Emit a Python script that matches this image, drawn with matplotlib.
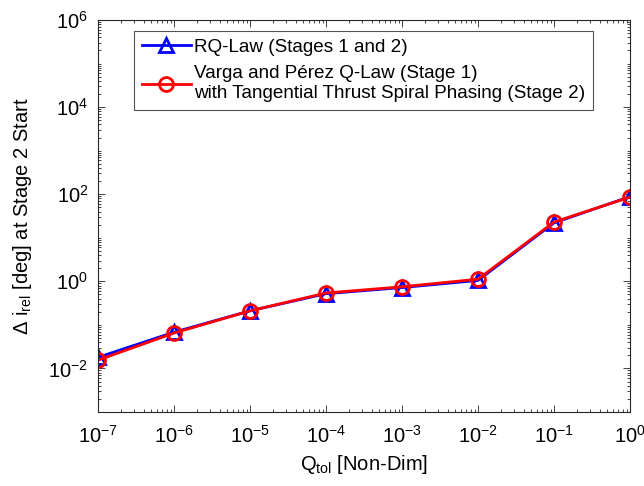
import matplotlib
matplotlib.use("Agg")
import matplotlib.pyplot as plt
from matplotlib.ticker import LogLocator, NullFormatter

plt.rcParams['font.family'] = ['Liberation Sans', 'DejaVu Sans']
plt.rcParams['mathtext.fontset'] = 'custom'
plt.rcParams['mathtext.rm'] = 'Liberation Sans'
plt.rcParams['mathtext.it'] = 'Liberation Sans:italic'
plt.rcParams['mathtext.default'] = 'regular'
plt.rcParams['axes.unicode_minus'] = False

# Convergence tolerance values
q_tol = [1e-7, 1e-6, 1e-5, 1e-4, 1e-3, 1e-2, 1e-1, 1e0]

# Relative inclination error at the start of stage 2 [deg]
rq_law = [0.018, 0.068, 0.21, 0.52, 0.72, 1.05, 22.0, 88.0]
varga_perez = [0.0155, 0.065, 0.21, 0.54, 0.75, 1.12, 23.0, 86.0]

labels = ["RQ-Law (Stages 1 and 2)",
          "Varga and Pérez Q-Law (Stage 1)\nwith Tangential Thrust Spiral Phasing (Stage 2)"]

fig = plt.figure(figsize=(6.44, 4.86), dpi=100)
ax = fig.add_axes([98 / 644, 1 - 412 / 486, 532 / 644, 392 / 486])

ax.plot(q_tol, rq_law, color='#0000ff', lw=2, marker='^', ms=10,
        mfc='none', mew=2, label=labels[0])
ax.plot(q_tol, varga_perez, color='#ff0000', lw=2, marker='o', ms=10,
        mfc='none', mew=2, label=labels[1])

ax.set_xscale('log')
ax.set_yscale('log')
ax.set_xlim(1e-7, 1e0)
ax.set_ylim(1e-3, 1e6)

ax.xaxis.set_major_locator(LogLocator(base=10, numticks=20))
ax.set_yticks([1e-2, 1e0, 1e2, 1e4, 1e6])
ax.xaxis.set_minor_locator(LogLocator(base=10, subs=range(2, 10), numticks=20))
ax.yaxis.set_minor_locator(LogLocator(base=10, subs=range(1, 10), numticks=20))
ax.xaxis.set_minor_formatter(NullFormatter())
ax.yaxis.set_minor_formatter(NullFormatter())

ax.tick_params(which='both', direction='in', top=True, right=True,
               labelsize=14.5, color='#262626', width=0.6)
ax.tick_params(which='major', length=5)
ax.tick_params(axis='x', which='major', pad=9)
ax.tick_params(axis='y', which='major', pad=7)
ax.tick_params(which='minor', length=2.5)
for sp in ax.spines.values():
    sp.set_linewidth(0.8)
    sp.set_color('#262626')

ax.set_xlabel(r'Q$_{\rm tol}$ [Non-Dim]', fontsize=14.5, labelpad=5)
ax.set_ylabel(r'$\Delta$ i$_{\rm rel}$ [deg] at Stage 2 Start', fontsize=14.5, labelpad=10)

leg = ax.legend(loc='upper left', bbox_to_anchor=(36 / 532, 1 - 11 / 392), fontsize=13.6,
                frameon=True, fancybox=False, edgecolor='#262626',
                handlelength=2.6, handletextpad=0.2, borderpad=0.4,
                labelspacing=0.5, borderaxespad=0)
leg.get_frame().set_linewidth(0.8)
for t in leg.get_texts():
    t.set_linespacing(1.25)

fig.savefig('out.png', dpi=100)
